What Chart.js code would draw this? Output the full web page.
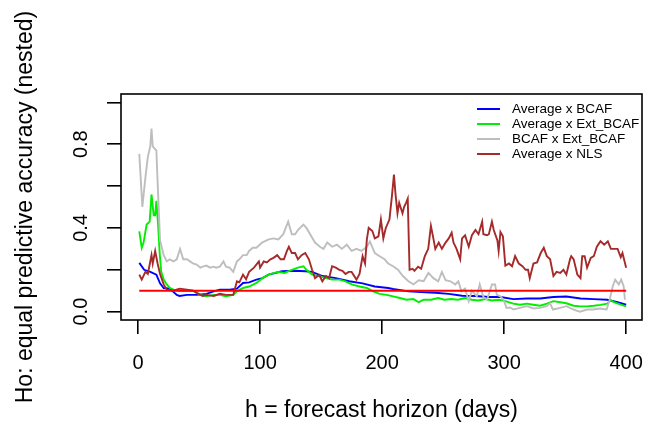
<!DOCTYPE html>
<html>
<head>
<meta charset="utf-8">
<script src="https://cdn.jsdelivr.net/npm/chart.js@4/dist/chart.umd.min.js"></script>
<style>
html,body{margin:0;padding:0;background:#fff;}
#wrap{width:646px;height:432px;}
</style>
</head>
<body>
<div id="wrap"><canvas id="c" width="646" height="432"></canvas></div>
<script>
// ---- data ----
const seriesNames = ['Average x BCAF','Average x Ext_BCAF','BCAF x Ext_BCAF','Average x NLS'];
const xTicks = [0,100,200,300,400];
const xTickLabels = ['0','100','200','300','400'];
const yTicks = [0,0.2,0.4,0.6,0.8,1.0];
const yTickLabels = ['0.0','','0.4','','0.8',''];
const xTitle = 'h = forecast horizon (days)';
const yTitle = 'Ho: equal predictive accuracy (nested)';

const hBlue = [1,5,10,15,18,21,26,31.7,34,40,48,56,62,67,75,81,86,91,97,102,107,118,129,137,142.6,151,162,173,184,194,205,209,221.6,232,243.6,254.6,265.5,276.5,287.5,297,307.6,318.6,329.5,340.4,351,362.6,373.5,384.5,393,400];
const vBlue = [0.233,0.20,0.19,0.177,0.135,0.113,0.11,0.08,0.075,0.08,0.08,0.085,0.097,0.105,0.105,0.11,0.137,0.14,0.153,0.16,0.177,0.193,0.195,0.193,0.19,0.17,0.16,0.145,0.135,0.12,0.113,0.108,0.097,0.093,0.09,0.085,0.076,0.075,0.07,0.07,0.06,0.063,0.063,0.07,0.072,0.063,0.06,0.057,0.045,0.033];

const hGreen = [1,3,4.5,7,9.5,11,12.8,14,15,16.4,17.8,19,21,23.5,26,29,34.4,40,45,51,56,62,67,72,78,81,86,91,97,102,107,112,115,120,126,131,135.5,138,142.6,148.5,154,159,165,170,175,181.5,187.5,192.6,198,203.7,209,214.6,220,225.7,230,234,240,246,251,256.8,262,268,273.6,279,284.6,290,295.6,301,307.6,313,318.6,324,329.5,335,340.4,346,351,357,362.6,368,373.5,379,384.5,387.5,390,395.6,400];
const vGreen = [0.384,0.305,0.33,0.416,0.43,0.56,0.46,0.46,0.53,0.416,0.27,0.19,0.153,0.13,0.113,0.105,0.10,0.10,0.10,0.08,0.073,0.08,0.08,0.073,0.08,0.097,0.113,0.12,0.137,0.16,0.177,0.185,0.19,0.185,0.20,0.21,0.217,0.20,0.177,0.17,0.16,0.153,0.153,0.145,0.13,0.12,0.113,0.097,0.085,0.08,0.073,0.065,0.057,0.06,0.045,0.057,0.057,0.065,0.057,0.06,0.057,0.065,0.057,0.053,0.06,0.053,0.057,0.05,0.038,0.033,0.038,0.033,0.028,0.038,0.05,0.045,0.04,0.028,0.025,0.025,0.028,0.032,0.038,0.055,0.045,0.033,0.025];

const hGray = [1,3.5,6,8,10,11,12,15,16,18,21,23.5,26,29,31.7,34.4,37,40,42.6,45,48,51,53,56,59,62,64,67,70,72,75,78,81,83,86,89,91,94,97,101.6,107,111,115,119,123,126,128.7,131,135.5,138,141,145,149,152,155,159,163,167,171,175,179,183,187.5,190,194,198,202,205,209,213,217,221.6,225.7,230,234,238,242,246,249,252,256,260,262.5,265,268,271,273.5,277.6,280,283,286,290,292.6,294,297,299.5,302,305,307.6,313,318.6,324,329.5,335,337.7,340,346,351,357,362,368,373,378.6,384,386.5,389,391,394,396,398,399];
const vGray = [0.754,0.50,0.64,0.74,0.79,0.875,0.79,0.77,0.62,0.34,0.27,0.24,0.25,0.24,0.25,0.30,0.25,0.25,0.24,0.23,0.225,0.21,0.215,0.22,0.21,0.215,0.21,0.215,0.24,0.215,0.21,0.19,0.24,0.25,0.27,0.27,0.29,0.305,0.305,0.33,0.345,0.35,0.345,0.37,0.43,0.37,0.37,0.39,0.416,0.40,0.37,0.33,0.31,0.30,0.33,0.31,0.32,0.30,0.32,0.29,0.30,0.29,0.31,0.336,0.28,0.265,0.25,0.23,0.217,0.20,0.17,0.145,0.13,0.15,0.145,0.185,0.16,0.145,0.19,0.15,0.145,0.13,0.145,0.097,0.11,0.05,0.10,0.073,0.13,0.07,0.057,0.13,0.13,0.08,0.073,0.057,0.018,0.02,0.01,0.018,0.026,0.015,0.018,0.026,0.04,0.01,0.018,0.026,0.01,0.0,0.01,0.01,0.015,0.01,0.057,0.12,0.153,0.13,0.153,0.12,0.057];

const hBrown = [1,3,6,8,11,12,14,16,18,21,23.5,29,34,40,45,51,53,56,62,67,72,78,81,83,86,88.5,91,95,99,100,103,105.5,108.5,111,114,116.8,119.5,122,123.6,126,128.7,131,134,137,140,142.6,145,148.5,151,154,156.5,159,162,165,167.5,170,172.6,175,179,181.5,184,186,187.5,189,192,194,197,199,201,203,206,208,209.7,211,212.6,214,216.7,218,219.6,221,222.5,225,226.5,229.5,232,235,237.8,240,242,243.6,246.4,249,252,254.6,257,258.5,261,264,265.5,268,271,273.6,276.5,279,282,283,286,287.5,290,291.5,294.5,295.5,297,299,301,304,306.5,309,312,315,317.6,319.6,321,324,327,330,332.5,335,337.7,340.4,343,346,348.6,351,354,355,357,360,362.6,364,366,368,371,373.5,376,379,382,385,387.5,390,393,395.6,397,400];
const vBrown = [0.177,0.153,0.19,0.18,0.27,0.23,0.29,0.23,0.18,0.13,0.105,0.10,0.11,0.105,0.10,0.08,0.075,0.08,0.075,0.085,0.08,0.08,0.145,0.14,0.177,0.155,0.19,0.21,0.24,0.21,0.24,0.235,0.25,0.257,0.27,0.25,0.25,0.29,0.31,0.28,0.28,0.25,0.27,0.28,0.25,0.20,0.16,0.175,0.145,0.17,0.16,0.217,0.21,0.20,0.195,0.18,0.19,0.19,0.153,0.18,0.265,0.23,0.345,0.40,0.385,0.35,0.36,0.44,0.35,0.40,0.44,0.55,0.655,0.56,0.47,0.52,0.47,0.50,0.52,0.54,0.20,0.205,0.195,0.215,0.205,0.265,0.30,0.41,0.35,0.30,0.33,0.30,0.33,0.35,0.377,0.33,0.30,0.25,0.35,0.365,0.31,0.365,0.39,0.37,0.43,0.37,0.365,0.37,0.43,0.39,0.34,0.29,0.38,0.36,0.22,0.23,0.217,0.265,0.23,0.217,0.20,0.20,0.16,0.23,0.235,0.28,0.305,0.265,0.25,0.17,0.19,0.185,0.20,0.177,0.25,0.265,0.25,0.177,0.16,0.265,0.265,0.21,0.257,0.265,0.31,0.336,0.32,0.336,0.30,0.30,0.30,0.26,0.28,0.21];

const hRef = [1,400];
const vRef = [0.1,0.1];

// ---- chart ----
const FONT = '"Liberation Sans", Arial, sans-serif';
const toXY = (hs, vs) => hs.map((h, i) => ({x: h, y: vs[i]}));

const boxPlugin = {
  id: 'box',
  afterDatasetsDraw(chart) {
    const {ctx, chartArea: a} = chart;
    ctx.save();
    ctx.strokeStyle = '#000';
    ctx.lineWidth = 1.6;
    ctx.strokeRect(a.left, a.top, a.right - a.left, a.bottom - a.top);
    ctx.restore();
  }
};

const yLabelPlugin = {
  id: 'ylabels',
  afterDraw(chart) {
    const {ctx} = chart;
    const ys = chart.scales.y;
    ctx.save();
    ctx.fillStyle = '#000';
    ctx.font = '20px ' + FONT;
    ctx.textAlign = 'center';
    ctx.textBaseline = 'middle';
    yTicks.forEach((v, i) => {
      const t = yTickLabels[i];
      if (!t) return;
      const py = ys.getPixelForValue(v);
      ctx.save();
      ctx.translate(81, py);
      ctx.rotate(-Math.PI / 2);
      ctx.fillText(t, 0, 0);
      ctx.restore();
    });
    ctx.restore();
  }
};

const legendPlugin = {
  id: 'rlegend',
  afterDraw(chart) {
    const {ctx} = chart;
    ctx.save();
    ctx.font = '13.5px ' + FONT;
    ctx.textAlign = 'left';
    ctx.textBaseline = 'middle';
    seriesNames.forEach((name, i) => {
      const ds = chart.data.datasets[i];
      const y = 109 + i * 15;
      ctx.strokeStyle = ds.borderColor;
      ctx.lineWidth = 2;
      ctx.beginPath();
      ctx.moveTo(477, y);
      ctx.lineTo(500, y);
      ctx.stroke();
      ctx.fillStyle = '#000';
      ctx.fillText(name, 512, y);
    });
    ctx.restore();
  }
};

new Chart(document.getElementById('c'), {
  type: 'line',
  data: {
    datasets: [
      {label: seriesNames[0], data: toXY(hBlue, vBlue), borderColor: '#0000ff', order: 4},
      {label: seriesNames[1], data: toXY(hGreen, vGreen), borderColor: '#00ee00', order: 3},
      {label: seriesNames[2], data: toXY(hGray, vGray), borderColor: '#bebebe', order: 2},
      {label: seriesNames[3], data: toXY(hBrown, vBrown), borderColor: '#a52a2a', order: 1},
      {label: 'ref', data: toXY(hRef, vRef), borderColor: '#ff0000', order: 0}
    ]
  },
  options: {
    responsive: false,
    animation: false,
    devicePixelRatio: 1,
    layout: {padding: {top: 94, right: 4, left: 0, bottom: 0}},
    elements: {
      point: {radius: 0},
      line: {borderWidth: 1.9, tension: 0}
    },
    plugins: {legend: {display: false}, tooltip: {enabled: false}},
    scales: {
      x: {
        type: 'linear',
        min: -14,
        max: 413,
        afterBuildTicks(s) { s.ticks = xTicks.map(v => ({value: v})); },
        afterFit(s) { s.height = 112; s.paddingLeft = 0; s.paddingRight = 0; },
        grid: {drawOnChartArea: false, drawTicks: true, tickLength: 14, color: '#000', lineWidth: 1.6},
        border: {display: false},
        ticks: {
          color: '#000',
          font: {family: FONT, size: 20},
          padding: 17,
          maxRotation: 0,
          callback: (v) => { const i = xTicks.indexOf(v); return i >= 0 ? xTickLabels[i] : ''; }
        },
        title: {display: true, text: xTitle, color: '#000', font: {family: FONT, size: 23}, padding: {top: 4, bottom: 8}}
      },
      y: {
        type: 'linear',
        min: -0.04,
        max: 1.04,
        afterBuildTicks(s) { s.ticks = yTicks.map(v => ({value: v})); },
        afterFit(s) { s.width = 121; s.paddingTop = 0; s.paddingBottom = 0; },
        grid: {drawOnChartArea: false, drawTicks: true, tickLength: 14, color: '#000', lineWidth: 1.6},
        border: {display: false},
        ticks: {display: false},
        title: {display: true, text: yTitle, color: '#000', font: {family: FONT, size: 23}, padding: {top: 12, bottom: 0}}
      }
    }
  },
  plugins: [boxPlugin, yLabelPlugin, legendPlugin]
});
</script>
</body>
</html>
